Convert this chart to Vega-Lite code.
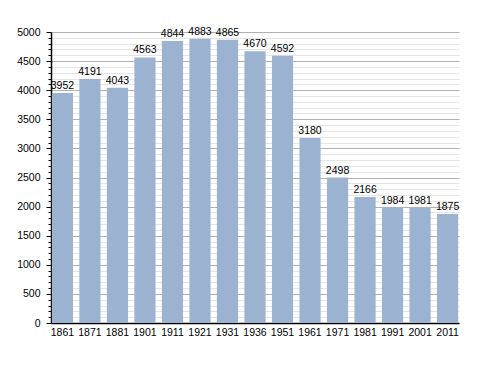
{
  "$schema": "https://vega.github.io/schema/vega-lite/v6.json",
  "width": 408,
  "height": 291,
  "autosize": {"type": "none"},
  "padding": {"left": 51, "top": 32, "right": 29, "bottom": 50},
  "background": "white",
  "config": {"view": {"stroke": null}, "font": "Liberation Sans"},
  "data": {"values": [
    {"year": "1861", "pop": 3952},
    {"year": "1871", "pop": 4191},
    {"year": "1881", "pop": 4043},
    {"year": "1901", "pop": 4563},
    {"year": "1911", "pop": 4844},
    {"year": "1921", "pop": 4883},
    {"year": "1931", "pop": 4865},
    {"year": "1936", "pop": 4670},
    {"year": "1951", "pop": 4592},
    {"year": "1961", "pop": 3180},
    {"year": "1971", "pop": 2498},
    {"year": "1981", "pop": 2166},
    {"year": "1991", "pop": 1984},
    {"year": "2001", "pop": 1981},
    {"year": "2011", "pop": 1875}
  ]},
  "encoding": {
    "x": {"field": "year", "type": "nominal", "sort": null,
      "scale": {"paddingInner": 0.23, "paddingOuter": 0.03},
      "axis": {"title": null, "labelAngle": 0, "ticks": false, "domainColor": "black", "domainWidth": 1.5, "labelFontSize": 10.5, "labelColor": "black", "labelPadding": 4, "grid": false}},
    "y": {"field": "pop", "type": "quantitative",
      "scale": {"domain": [0, 5000], "nice": false},
      "axis": {"title": null,
        "values": [0,100,200,300,400,500,600,700,800,900,1000,1100,1200,1300,1400,1500,1600,1700,1800,1900,2000,2100,2200,2300,2400,2500,2600,2700,2800,2900,3000,3100,3200,3300,3400,3500,3600,3700,3800,3900,4000,4100,4200,4300,4400,4500,4600,4700,4800,4900,5000],
        "labelExpr": "datum.value % 500 === 0 ? datum.label : ''",
        "format": "d",
        "grid": true,
        "gridColor": {"condition": {"test": "datum.value % 500 === 0", "value": "#b0b0b0"}, "value": "#e4e4e4"},
        "tickSize": {"condition": {"test": "datum.value % 500 === 0", "value": 5}, "value": 3},
        "tickColor": "black",
        "domainColor": "black",
        "domainWidth": 1.5,
        "labelFontSize": 10.5,
        "labelColor": "black",
        "labelPadding": 6}}
  },
  "layer": [
    {"mark": {"type": "bar", "color": "#9bb3d1"}},
    {"mark": {"type": "text", "dy": -7, "fontSize": 10.5, "color": "black"},
      "encoding": {"text": {"field": "pop", "type": "quantitative", "format": "d"}}}
  ]
}
